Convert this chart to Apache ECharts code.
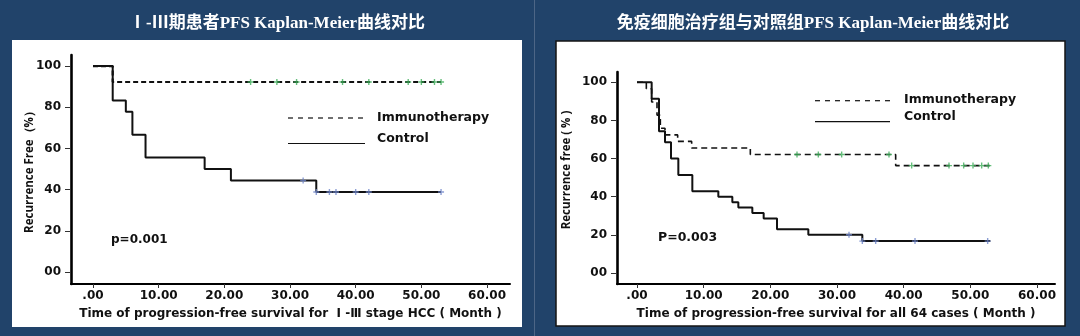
<!DOCTYPE html>
<html>
<head>
<meta charset="utf-8">
<script src="https://cdn.jsdelivr.net/npm/echarts@6/dist/echarts.min.js"></script>
<style>
  html, body { margin: 0; padding: 0; background: #21436a; }
  #chart { width: 1080px; height: 336px; }
</style>
</head>
<body>
<div id="chart"></div>
<script>
// Panel titles
const titles = ['Ⅰ-Ⅲ期患者PFS Kaplan-Meier曲线对比', '免疫细胞治疗组与对照组PFS Kaplan-Meier曲线对比'];
const xNames = ['Time of progression-free survival for  Ⅰ -Ⅲ stage HCC ( Month )',
                'Time of progression-free survival for all 64 cases ( Month )'];
const yNames = ['Recurrence Free（%）', 'Recurrence free ( % )'];
const pValues = ['p=0.001', 'P=0.003'];
const seriesNames = ['Immunotherapy', 'Control'];

// Tick values shared by both panels
const xTicks = [0, 10, 20, 30, 40, 50, 60];
const yTicks = [0, 20, 40, 60, 80, 100];

// Ⅰ-Ⅲ stage cohort: [month, % recurrence free after the event]
const stageImmuno = [[0, 100], [3, 92.3], [53, 92.3]];
const stageImmunoCensor = [24, 28, 31, 38, 42, 48, 50, 52, 53];
const stageControl = [[0, 100], [3, 83.3], [5, 77.8], [6, 66.7], [8, 55.6], [17, 50],
                      [21, 44.4], [34, 38.9], [53, 38.9]];
const stageControlCensor = [32, 34, 36, 37, 40, 42, 53];

// All 64 cases
const allImmuno = [[0, 100], [1.4, 96.6], [2.2, 89.7], [3.0, 82.8], [3.5, 75.9], [4.2, 72.4],
                   [6.1, 69.0], [8.2, 65.5], [17, 62.1], [38.8, 56.3], [53, 56.3]];
const allImmunoCensor = [24, 27.2, 30.7, 37.8, 41.2, 46.8, 49, 50.4, 51.7, 52.7];
const allControl = [[0, 100], [2.2, 91.4], [3.3, 74.3], [4.2, 68.6], [5.1, 60], [6.2, 51.4],
                    [8.3, 42.9], [12.2, 40], [14.3, 37.1], [15.2, 34.3], [17.3, 31.4],
                    [19, 28.6], [21, 22.9], [25.7, 20], [33.8, 16.7], [53, 16.7]];
const allControlCensor = [31.8, 33.8, 35.8, 41.7, 52.6];

// survival level of a step curve at time t
function levelAt(steps, t) {
  let y = steps[0][1];
  for (const [x, v] of steps) if (x <= t) y = v;
  return y;
}
function censorPoints(steps, times) {
  return times.map(t => [t, levelAt(steps, t)]);
}

const NUM_FONT = 'DejaVu Sans';
const plusMark = 'path://M2,0h1.2v5.2h-1.2zM0,2h5.2v1.2h-5.2z';

const panels = [
  { grid: { left: 71, right: 570, top: 55, bottom: 52 }, xMin: -3.35, xMax: 63.5,
    immuno: stageImmuno, immunoC: stageImmunoCensor, control: stageControl, controlC: stageControlCensor,
    dashW: 2.2, dash: [5, 3], solidW: 2 },
  { grid: { left: 617, right: 25, top: 72, bottom: 52 }, xMin: -3.0, xMax: 62.7,
    immuno: allImmuno, immunoC: allImmunoCensor, control: allControl, controlC: allControlCensor,
    dashW: 1.6, dash: [6, 4], solidW: 2 }
];

const grids = [], xAxes = [], yAxes = [], series = [];
panels.forEach((p, i) => {
  grids.push(p.grid);
  xAxes.push({
    type: 'value', gridIndex: i, min: p.xMin, max: p.xMax,
    name: xNames[i], nameLocation: 'middle', nameGap: 24,
    nameTextStyle: { fontFamily: NUM_FONT, fontWeight: 'bold', fontSize: 12, color: '#111' },
    axisLine: { onZero: false, lineStyle: { color: '#000', width: 2 } },
    axisTick: { show: true, customValues: xTicks, length: 4, lineStyle: { color: '#333', width: 1 } },
    axisLabel: { customValues: xTicks, margin: 6, fontFamily: NUM_FONT, fontWeight: 'bold', fontSize: 12, color: '#111',
                 formatter: v => v === 0 ? '.00' : v.toFixed(2) },
    splitLine: { show: false }
  });
  yAxes.push({
    type: 'value', gridIndex: i, min: -5.8, max: 105.4,
    axisLine: { onZero: false, lineStyle: { color: '#000', width: 2.6 } },
    axisTick: { show: true, customValues: yTicks, length: 6, lineStyle: { color: '#333', width: 1 } },
    axisLabel: { customValues: yTicks, margin: 10, fontFamily: NUM_FONT, fontWeight: 'bold', fontSize: 12, color: '#111',
                 formatter: v => v === 0 ? '00' : String(v) },
    splitLine: { show: false }
  });
  series.push({
    name: seriesNames[0], type: 'line', step: 'end', xAxisIndex: i, yAxisIndex: i,
    data: p.immuno, symbol: 'none', z: 3,
    lineStyle: { color: '#111', width: p.dashW, type: p.dash }
  });
  series.push({
    name: seriesNames[1], type: 'line', step: 'end', xAxisIndex: i, yAxisIndex: i,
    data: p.control, symbol: 'none', z: 3,
    lineStyle: { color: '#111', width: p.solidW }
  });
  series.push({
    name: seriesNames[0] + ' censored', type: 'scatter', xAxisIndex: i, yAxisIndex: i,
    data: censorPoints(p.immuno, p.immunoC), symbol: plusMark, symbolSize: 6, z: 4,
    itemStyle: { color: '#3fae5a' }
  });
  series.push({
    name: seriesNames[1] + ' censored', type: 'scatter', xAxisIndex: i, yAxisIndex: i,
    data: censorPoints(p.control, p.controlC), symbol: plusMark, symbolSize: 6, z: 4,
    itemStyle: { color: '#6f86c9' }
  });
});

const legendText = { fontFamily: NUM_FONT, fontWeight: 'bold', fontSize: 12.5, fill: '#111' };
function legendGroup(x0, x1, tx, yDash, yDashText, ySolid, ySolidText) {
  return [
    { type: 'line', shape: { x1: x0, y1: yDash, x2: x1, y2: yDash },
      style: { stroke: '#111', lineWidth: 1.2, lineDash: [5, 5] } },
    { type: 'text', x: tx, y: yDashText, style: Object.assign({ text: seriesNames[0], verticalAlign: 'middle' }, legendText) },
    { type: 'line', shape: { x1: x0, y1: ySolid, x2: x1, y2: ySolid },
      style: { stroke: '#111', lineWidth: 1.2 } },
    { type: 'text', x: tx, y: ySolidText, style: Object.assign({ text: seriesNames[1], verticalAlign: 'middle' }, legendText) }
  ];
}

const graphic = [
  { type: 'rect', z: -10, shape: { x: 12, y: 40, width: 510, height: 287 }, style: { fill: '#ffffff' } },
  { type: 'rect', z: -10, shape: { x: 556, y: 41, width: 509, height: 285 },
    style: { fill: '#ffffff', stroke: '#151515', lineWidth: 1.5 } },
  { type: 'line', z: -10, shape: { x1: 534.5, y1: 0, x2: 534.5, y2: 336 }, style: { stroke: '#4d6686', lineWidth: 1 } },
  // titles of the value axes
  { type: 'text', x: 30, y: 169, rotation: Math.PI / 2,
    style: { text: yNames[0], align: 'center', verticalAlign: 'middle', fontFamily: 'Open Sans', fontWeight: 'bold', fontSize: 11.5, fill: '#111' } },
  { type: 'text', x: 567, y: 170, rotation: Math.PI / 2,
    style: { text: yNames[1], align: 'center', verticalAlign: 'middle', fontFamily: 'Open Sans', fontWeight: 'bold', fontSize: 11.5, fill: '#111' } },
  // p values
  { type: 'text', x: 111, y: 240, style: { text: pValues[0], verticalAlign: 'middle', fontFamily: NUM_FONT, fontWeight: 'bold', fontSize: 12, fill: '#111' } },
  { type: 'text', x: 658, y: 238, style: { text: pValues[1], verticalAlign: 'middle', fontFamily: NUM_FONT, fontWeight: 'bold', fontSize: 12.5, fill: '#111' } }
].concat(legendGroup(288, 365, 377, 118, 118, 143.5, 139))
 .concat(legendGroup(815, 890, 904, 100.7, 100, 121.7, 117));

const chart = echarts.init(document.getElementById('chart'), null, { renderer: 'canvas' });
chart.setOption({
  backgroundColor: '#21436a',
  animation: false,
  title: [
    { text: titles[0], left: 272, top: 10, textAlign: 'center',
      textStyle: { color: '#fff', fontSize: 17, fontWeight: 'bold', fontFamily: 'Liberation Serif, Noto Sans CJK SC' } },
    { text: titles[1], left: 808, top: 10, textAlign: 'center',
      textStyle: { color: '#fff', fontSize: 17, fontWeight: 'bold', fontFamily: 'Liberation Serif, Noto Sans CJK SC' } }
  ],
  grid: grids,
  xAxis: xAxes,
  yAxis: yAxes,
  series: series,
  graphic: graphic
});
</script>
</body>
</html>
